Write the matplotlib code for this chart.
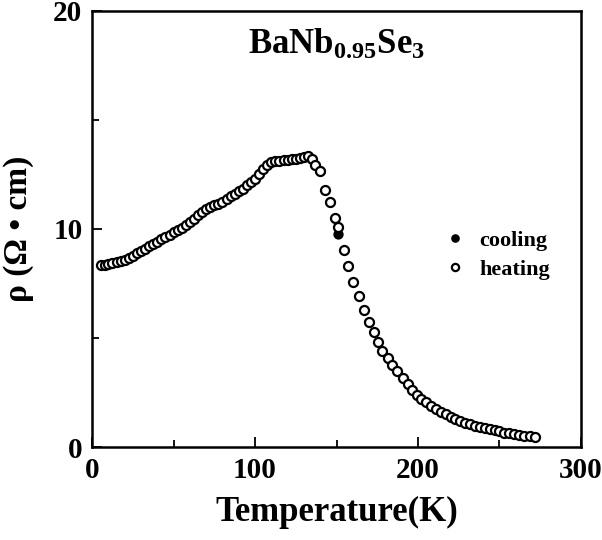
import matplotlib
matplotlib.use("Agg")
import matplotlib.pyplot as plt
from matplotlib.ticker import MultipleLocator

plt.rcParams['font.family'] = ['Liberation Serif', 'DejaVu Serif']
plt.rcParams['font.weight'] = 'bold'
plt.rcParams['mathtext.fontset'] = 'custom'
plt.rcParams['mathtext.rm'] = 'Liberation Serif:bold'
plt.rcParams['mathtext.bf'] = 'Liberation Serif:bold'

# heating run (open circles)
heat_T = [5.5, 8, 10, 12.5, 15, 17.5, 20, 22.5, 25, 27.5, 30, 32.5, 35, 37.5,
          40, 42.5, 45, 47.5, 50, 52.5, 55, 57.5, 60, 62.5, 65, 67.5, 70, 72.5,
          75, 77.5, 80, 82.5, 85, 87.5, 90, 92.5, 95, 97.5, 100, 102.5, 105,
          107.5, 110, 112.5, 115, 117.5, 120, 122.5, 125, 127.5, 130, 132.5,
          135, 137, 140, 142.7, 146, 149.2, 151.2, 154.3, 157.3, 160.4, 163.6,
          166.9, 170, 173, 175.2, 178.2, 181.3, 184.3, 187.4, 190.8, 193.9,
          196.3, 199.6, 202, 205, 208, 211.2, 214.2, 217.3, 220, 222.7, 226,
          228.8, 231.9, 235, 238, 241, 244.3, 247, 250, 253, 256, 259, 262,
          265, 268.5, 272]
heat_rho = [8.35, 8.35, 8.38, 8.42, 8.48, 8.55, 8.6, 8.68, 8.78, 8.88, 8.98,
            9.08, 9.2, 9.32, 9.42, 9.52, 9.62, 9.74, 9.85, 9.95, 10.05, 10.18,
            10.3, 10.45, 10.62, 10.76, 10.9, 11.0, 11.08, 11.15, 11.25, 11.38,
            11.5, 11.62, 11.75, 11.85, 12.0, 12.15, 12.3, 12.5, 12.75, 12.92,
            13.05, 13.1, 13.12, 13.15, 13.18, 13.2, 13.2, 13.25, 13.32, 13.33,
            13.2, 12.95, 12.65, 11.8, 11.23, 10.52, 10.09, 9.04, 8.28, 7.55,
            6.94, 6.29, 5.72, 5.27, 4.81, 4.4, 4.08, 3.77, 3.48, 3.18, 2.91,
            2.6, 2.37, 2.22, 2.07, 1.89, 1.77, 1.61, 1.51, 1.39, 1.28, 1.2,
            1.11, 1.04, 0.97, 0.93, 0.88, 0.82, 0.78, 0.73, 0.67, 0.63, 0.59,
            0.55, 0.53, 0.5, 0.47]

# cooling run (filled circles), mostly hidden below the heating points
cool_T = [12.5, 22.5, 32.5, 42.5, 52.5, 62.5, 72.5, 82.5, 92.5, 102.5, 112.5,
          122.5, 132.5, 140, 146, 151.2, 157.3, 163.6, 170, 181.3, 190.8,
          199.6, 214.2, 231.9, 244.3, 259, 268.5]
cool_rho = [8.42, 8.68, 9.08, 9.52, 9.95, 10.45, 11.0, 11.38, 11.85, 12.5,
            13.1, 13.2, 13.33, 12.65, 11.23, 9.76, 8.28, 6.94, 5.72, 4.08,
            3.18, 2.37, 1.61, 1.04, 0.82, 0.59, 0.5]

fig = plt.figure(figsize=(6.02, 5.4), dpi=100)
ax = fig.add_axes([0.153, 0.172, 0.812, 0.808])

ax.plot(cool_T, cool_rho, 'o', ms=6, mfc='black', mec='black', mew=1.4,
        ls='none', label='cooling')
ax.plot(heat_T, heat_rho, 'o', ms=6.5, mfc='white', mec='black', mew=1.6,
        ls='none', label='heating')

ax.set_xlim(0, 300)
ax.set_ylim(0, 20)
ax.xaxis.set_major_locator(MultipleLocator(100))
ax.xaxis.set_minor_locator(MultipleLocator(50))
ax.yaxis.set_major_locator(MultipleLocator(10))
ax.yaxis.set_minor_locator(MultipleLocator(5))
ax.tick_params(which='both', direction='in', top=False, right=False,
               labelsize=21, width=1.3)
ax.tick_params(which='major', length=7, pad=7)
ax.tick_params(which='minor', length=5)
for s in ax.spines.values():
    s.set_linewidth(1.8)

ax.set_xlabel('Temperature(K)', fontsize=25, fontweight='bold', labelpad=9)
ax.set_ylabel('ρ (Ω • cm)', fontsize=24, fontweight='bold', labelpad=14)

ax.text(0.5, 0.96, r'$\mathrm{BaNb_{0.95}Se_{3}}$', transform=ax.transAxes,
        ha='center', va='top', fontsize=25)

ax.legend(loc='center left', bbox_to_anchor=(0.715, 0.44), frameon=False,
          fontsize=16, markerscale=0.8, handletextpad=0.5, labelspacing=0.35,
          handlelength=1.2, borderpad=0, borderaxespad=0)

fig.savefig('out.png', dpi=100)
